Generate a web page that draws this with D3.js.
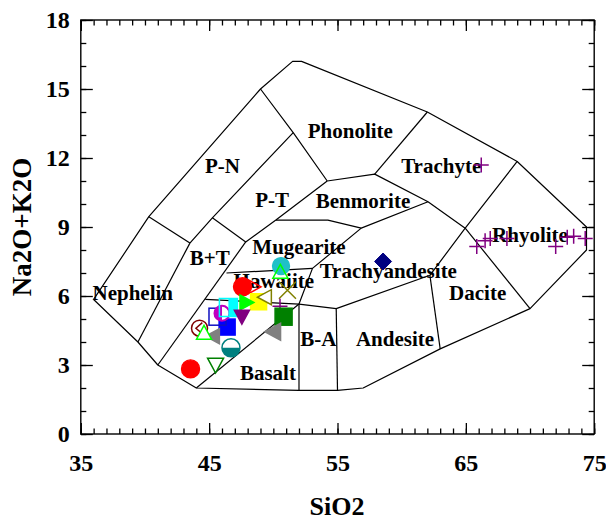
<!DOCTYPE html>
<html>
<head>
<meta charset="utf-8">
<script src="https://cdn.jsdelivr.net/npm/d3@7"></script>
<style>
  body { margin: 0; background: #fff; }
  text { font-family: "Liberation Serif", "Times New Roman", serif; font-weight: bold; fill: #000; }
</style>
</head>
<body>
<svg id="chart" width="606" height="521"></svg>
<script>
// ---- Sample analyses: SiO2 (wt%) and total alkalis Na2O+K2O (wt%) ----
const siO2 = [48.5, 47.6, 50.6, 50.55, 51.1, 50.52, 50.8, 50.0, 48.85, 49.35, 47.9,
              46.4, 45.65, 46.0, 46.5, 47.55, 45.3, 44.25, 44.6, 46.7, 45.5, 43.55,
              58.55,
              66.2, 65.85, 66.5, 66.9, 68.2, 72.0, 72.9, 73.4, 74.3];
const alkalis = [6.4, 6.4, 7.3, 7.05, 6.25, 5.55, 5.1, 4.45, 5.75, 5.95, 5.72,
                 4.65, 5.1, 5.25, 5.5, 5.1, 4.25, 4.6, 4.4, 3.75, 3.0, 2.83,
                 7.5,
                 11.7, 8.15, 8.4, 8.5, 8.5, 8.15, 8.55, 8.6, 8.5];

// ---- Marker style for each sample (same order as the values above) ----
const markerStyle = [
  { kind: "triRight",  color: "#ff0000", fill: "none",    size: 14 },
  { kind: "circle",    color: "#ff0000", fill: "solid",   size: 18 },
  { kind: "circle",    color: "#20c0c8", fill: "solid",   size: 17 },
  { kind: "triUp",     color: "#00ff00", fill: "none",    size: 15 },
  { kind: "times",     color: "#808000", fill: "none",    size: 17 },
  { kind: "plus",      color: "#800080", fill: "none",    size: 15 },
  { kind: "square",    color: "#008000", fill: "solid",   size: 17 },
  { kind: "triLeft",   color: "#808080", fill: "solid",   size: 17 },
  { kind: "square",    color: "#ffff00", fill: "solid",   size: 16 },
  { kind: "triLeft",   color: "#808000", fill: "white",   size: 15 },
  { kind: "triRight",  color: "#00ff00", fill: "solid",   size: 15 },
  { kind: "square",    color: "#0000ff", fill: "solid",   size: 16 },
  { kind: "square",    color: "#1010c0", fill: "none",    size: 17 },
  { kind: "circleHalfLeft",  color: "#c000c0", fill: "half", size: 15 },
  { kind: "squareHalfRight", color: "#00ffff", fill: "half", size: 18 },
  { kind: "triDown",   color: "#800080", fill: "solid",   size: 15 },
  { kind: "triLeft",   color: "#808080", fill: "solid",   size: 15 },
  { kind: "circleTri", color: "#800000", fill: "none",    size: 16 },
  { kind: "triUp",     color: "#00ff00", fill: "white",   size: 15 },
  { kind: "circleHalfBottom", color: "#008080", fill: "half", size: 18 },
  { kind: "triDown",   color: "#008000", fill: "white",   size: 16 },
  { kind: "circle",    color: "#ff0000", fill: "solid",   size: 18 },
  { kind: "diamond",   color: "#000080", fill: "solid",   size: 17 },
  { kind: "plus", color: "#800080", fill: "none", size: 15 },
  { kind: "plus", color: "#800080", fill: "none", size: 15 },
  { kind: "plus", color: "#800080", fill: "none", size: 15 },
  { kind: "plus", color: "#800080", fill: "none", size: 15 },
  { kind: "plus", color: "#800080", fill: "none", size: 15 },
  { kind: "plus", color: "#800080", fill: "none", size: 15 },
  { kind: "plus", color: "#800080", fill: "none", size: 15 },
  { kind: "plus", color: "#800080", fill: "none", size: 15 },
  { kind: "plus", color: "#800080", fill: "none", size: 15 }
];

// ---- TAS field boundaries (SiO2, Na2O+K2O) ----
const outerBoundary = [[36,5.85],[39.45,4],[41,3],[44,2],[52,1.9],[55,1.9],[57,2],[63,3.7],
  [70,5.45],[74.4,8],[74.4,9],[69,11.85],[62,14],[52.2,16.2],[51.5,16.2],[49,15],[40.3,9.45],[36,5.85]];
const fieldLines = [
  [[40.3,9.45],[43.5,8.3]],
  [[43.5,8.3],[39.45,4]],
  [[43.5,8.3],[45.25,9.4],[51.55,13.1]],
  [[49,15],[51.55,13.1],[54.2,11]],
  [[45.25,9.4],[47.85,8.35]],
  [[41,3],[47.85,8.35]],
  [[47.85,8.35],[50.2,9.3],[54.2,11]],
  [[50.2,9.3],[54.25,9.3],[56.85,8.95]],
  [[46.35,7],[53.05,7.2]],
  [[44.7,5.85],[52,5.65]],
  [[52,5.65],[53.05,7.2],[56.85,8.95],[62.05,10.1]],
  [[54.2,11],[57.9,11.3],[62.05,10.1],[64.95,8.95]],
  [[62,14],[57.9,11.3]],
  [[69,11.85],[64.95,8.95],[62.2,6.9]],
  [[64.95,8.95],[70,5.45]],
  [[62.2,6.9],[63,3.7]],
  [[52,5.65],[54.9,5.45],[62.2,6.9]],
  [[52,5.65],[52,1.9]],
  [[54.9,5.45],[55,1.9]],
  [[44,2],[52,5.65]]
];

// ---- Field names and where they sit (SiO2, Na2O+K2O) ----
const fieldNames = ["Phonolite","P-N","P-T","Benmorite","Trachyte","Rhyolite","Mugearite","B+T",
  "Trachyandesite","Hawaiite","Nephelin","Dacite","B-A","Andesite","Basalt"];
const fieldNameAt = [[56.0,13.19],[46.04,11.67],[49.9,10.17],[56.99,10.14],[63.08,11.67],[70.0,8.65],
  [52.0,8.14],[45.04,7.67],[58.96,7.1],[50.04,6.67],[39.05,6.14],[65.92,6.14],[53.5,4.13],[59.48,4.13],[49.58,2.68]];

// ---- Axes ----
const xDomain = [35, 75];
const yDomain = [0, 18];
const xTickLabels = [35, 45, 55, 65, 75];
const yTickLabels = [0, 3, 6, 9, 12, 15, 18];
const xTitle = "SiO2";
const yTitle = "Na2O+K2O";

(function draw() {
const svg = d3.select("#chart");
const plotLeft = 80.8, plotRight = 594.2, plotTop = 20, plotBottom = 434;
const x = d3.scaleLinear().domain(xDomain).range([plotLeft, plotRight]);
const y = d3.scaleLinear().domain(yDomain).range([plotBottom, plotTop]);

const xMinor = d3.range(xDomain[0], xDomain[1] + 0.001, 1);
const yMinor = d3.range(yDomain[0], yDomain[1] + 0.001, 1);

function styleAxis(g) {
  g.select(".domain").remove();
  g.selectAll(".tick line").attr("stroke", "#000").attr("stroke-width", 1.3);
}
function styleLabels(g) {
  g.selectAll("text").attr("font-size", 24)
    .style("font-family", "'Liberation Serif', 'Times New Roman', serif").style("font-weight", "bold").attr("fill", "#000");
}

// bottom axis: major (with labels) and minor ticks, all pointing inward
svg.append("g").attr("transform", `translate(0,${plotBottom})`)
  .call(d3.axisBottom(x).tickValues(xMinor).tickSize(-5.5).tickFormat(""))
  .call(styleAxis);
svg.append("g").attr("transform", `translate(0,${plotBottom})`)
  .call(d3.axisBottom(x).tickValues(xTickLabels).tickSize(-11).tickPadding(20).tickFormat(d3.format("d")))
  .call(styleAxis).call(styleLabels);
// top axis
svg.append("g").attr("transform", `translate(0,${plotTop})`)
  .call(d3.axisTop(x).tickValues(xMinor).tickSize(-5.5).tickFormat(""))
  .call(styleAxis);
svg.append("g").attr("transform", `translate(0,${plotTop})`)
  .call(d3.axisTop(x).tickValues(xTickLabels).tickSize(-11).tickFormat(""))
  .call(styleAxis);
// left axis
svg.append("g").attr("transform", `translate(${plotLeft},0)`)
  .call(d3.axisLeft(y).tickValues(yMinor).tickSize(-5.5).tickFormat(""))
  .call(styleAxis);
svg.append("g").attr("transform", `translate(${plotLeft},0)`)
  .call(d3.axisLeft(y).tickValues(yTickLabels).tickSize(-12).tickPadding(11).tickFormat(d3.format("d")))
  .call(styleAxis).call(styleLabels);
// right axis
svg.append("g").attr("transform", `translate(${plotRight},0)`)
  .call(d3.axisRight(y).tickValues(yMinor).tickSize(-5.5).tickFormat(""))
  .call(styleAxis);
svg.append("g").attr("transform", `translate(${plotRight},0)`)
  .call(d3.axisRight(y).tickValues(yTickLabels).tickSize(-12).tickFormat(""))
  .call(styleAxis);

// plot frame
svg.append("rect")
  .attr("x", plotLeft).attr("y", plotTop).attr("width", plotRight - plotLeft).attr("height", plotBottom - plotTop)
  .attr("fill", "none").attr("stroke", "#000").attr("stroke-width", 1.4);

// axis titles
svg.append("text").attr("x", (plotLeft + plotRight) / 2 - 0.5).attr("y", 515)
  .attr("text-anchor", "middle").attr("font-size", 26).text(xTitle);
svg.append("text").attr("transform", `translate(31,${(plotTop + plotBottom) / 2}) rotate(-90)`)
  .attr("text-anchor", "middle").attr("font-size", 27).text(yTitle);

// ---- TAS fields ----
const line = d3.line().x(d => x(d[0])).y(d => y(d[1]));
const fields = svg.append("g").attr("fill", "none").attr("stroke", "#000").attr("stroke-width", 1.2)
  .attr("stroke-linejoin", "round");
fields.append("path").attr("d", line(outerBoundary));
fields.selectAll("path.inner").data(fieldLines).join("path").attr("class", "inner").attr("d", line);

svg.append("g").selectAll("text").data(fieldNames).join("text")
  .attr("x", (d, i) => x(fieldNameAt[i][0]))
  .attr("y", (d, i) => y(fieldNameAt[i][1]))
  .attr("dy", "0.34em")
  .attr("text-anchor", "middle")
  .attr("font-size", 21)
  .text(d => d);

// ---- Marker shapes ----
function tri(s, dir) {
  const h = s / 2;
  let p;
  if (dir === "up") p = [[0,-h],[h,h*0.85],[-h,h*0.85]];
  else if (dir === "down") p = [[0,h],[h,-h*0.85],[-h,-h*0.85]];
  else if (dir === "left") p = [[-h,0],[h*0.85,-h],[h*0.85,h]];
  else p = [[h,0],[-h*0.85,-h],[-h*0.85,h]];
  return "M" + p.map(q => q.join(",")).join("L") + "Z";
}
function circlePath(r) {
  return `M${-r},0A${r},${r} 0 1,0 ${r},0A${r},${r} 0 1,0 ${-r},0Z`;
}

const marks = svg.append("g");
siO2.forEach((sx, i) => {
  const st = markerStyle[i];
  const g = marks.append("g").attr("transform", `translate(${x(sx)},${y(alkalis[i])})`);
  const s = st.size, h = s / 2, c = st.color;
  const fillOf = f => f === "solid" ? c : (f === "white" ? "#fff" : "none");
  switch (st.kind) {
    case "circle":
      g.append("path").attr("d", circlePath(h)).attr("fill", fillOf(st.fill)).attr("stroke", c).attr("stroke-width", 1.4);
      break;
    case "square":
      g.append("rect").attr("x", -h).attr("y", -h).attr("width", s).attr("height", s)
        .attr("fill", fillOf(st.fill)).attr("stroke", c).attr("stroke-width", 1.5);
      break;
    case "triUp": case "triDown": case "triLeft": case "triRight":
      g.append("path").attr("d", tri(s, st.kind.slice(3).toLowerCase()))
        .attr("fill", fillOf(st.fill)).attr("stroke", c).attr("stroke-width", 1.5).attr("stroke-linejoin", "miter");
      break;
    case "diamond":
      g.append("path").attr("d", `M0,${-h}L${h},0L0,${h}L${-h},0Z`).attr("fill", c).attr("stroke", c);
      break;
    case "plus":
      g.append("path").attr("d", `M${-h},0H${h}M0,${-h}V${h}`).attr("stroke", c).attr("stroke-width", 1.5);
      break;
    case "times":
      g.append("path").attr("d", `M${-h},${-h}L${h},${h}M${h},${-h}L${-h},${h}`).attr("stroke", c).attr("stroke-width", 1.5);
      break;
    case "circleHalfBottom":
      g.append("path").attr("d", circlePath(h)).attr("fill", "#fff");
      g.append("path").attr("d", `M${-h},0A${h},${h} 0 0,0 ${h},0Z`).attr("fill", c);
      g.append("path").attr("d", circlePath(h)).attr("fill", "none").attr("stroke", c).attr("stroke-width", 1.5);
      break;
    case "circleHalfLeft":
      g.append("path").attr("d", circlePath(h)).attr("fill", "#fff");
      g.append("path").attr("d", `M0,${-h}A${h},${h} 0 0,0 0,${h}Z`).attr("fill", c);
      g.append("path").attr("d", circlePath(h)).attr("fill", "none").attr("stroke", c).attr("stroke-width", 2);
      break;
    case "squareHalfRight":
      g.append("rect").attr("x", -h).attr("y", -h).attr("width", s).attr("height", s).attr("fill", "none")
        .attr("stroke", c).attr("stroke-width", 1.5);
      g.append("rect").attr("x", 0).attr("y", -h).attr("width", h).attr("height", s).attr("fill", c);
      break;
    case "circleTri":
      g.append("path").attr("d", circlePath(h)).attr("fill", "#fff").attr("stroke", c).attr("stroke-width", 1.5);
      g.append("path").attr("d", `M${h*0.35},${-h*0.7}L${-h*0.45},0L${h*0.35},${h*0.7}`)
        .attr("fill", "none").attr("stroke", c).attr("stroke-width", 1.5);
      break;
  }
});
})();
</script>
</body>
</html>
